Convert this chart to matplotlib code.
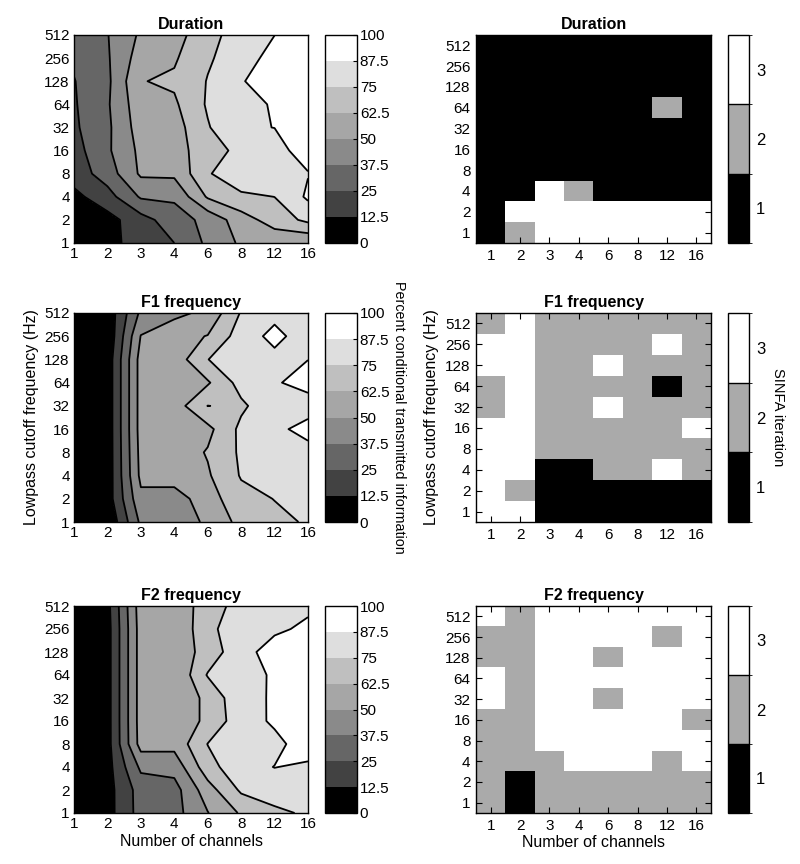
import numpy as np
import matplotlib
matplotlib.use("Agg")
import matplotlib.pyplot as plt
from matplotlib.colors import ListedColormap, BoundaryNorm

plt.rcParams['font.family'] = ['Liberation Sans', 'DejaVu Sans']

channels = ['1', '2', '3', '4', '6', '8', '12', '16']
cutoffs = ['1', '2', '4', '8', '16', '32', '64', '128', '256', '512']
levels = [0, 12.5, 25, 37.5, 50, 62.5, 75, 87.5, 100]
level_labels = ['0', '12.5', '25', '37.5', '50', '62.5', '75', '87.5', '100']

# Percent conditional transmitted information, rows = cutoff (1..512), cols = channels
dur_pct = [
    [2, 7, 20, 25, 40, 52, 54, 51],
    [3, 8, 20, 32, 41, 57, 68, 78],
    [9, 20, 39, 39.5, 64, 72, 75.1, 89.5],
    [18, 31, 52, 52.5, 73.5, 86, 86.5, 87],
    [20, 35.5, 53, 57, 69.8, 78.2, 84, 92],
    [23, 35, 56, 57, 74, 86.5, 87.6, 97],
    [23.8, 36, 58, 60.5, 76.5, 84, 88.5, 98],
    [24.5, 34.8, 62, 64.5, 75.6, 87, 91.2, 98],
    [27, 36.1, 55.9, 61, 73.5, 81.4, 92.3, 97],
    [31, 37, 52, 58, 70, 82, 87.4, 96],
]
f1_pct = [
    [0.5, 1, 40, 42, 52.4, 66.4, 72, 76.2],
    [1, 6, 47, 44, 57, 70.8, 75.3, 81],
    [1, 5, 53, 56, 61, 76, 82, 84],
    [1, 5, 54, 55, 63.5, 77, 84, 84],
    [1, 5, 55, 52, 59, 78, 85, 91],
    [1, 5, 55, 56.3, 75.2, 72.6, 84, 83],
    [1, 5, 55, 56, 61, 79.8, 86.5, 91],
    [1, 5, 55, 55.3, 74.8, 82, 84, 87.4],
    [1, 2.5, 50.5, 58, 63, 81, 91, 81],
    [1, 4, 40, 47, 52.8, 76, 84, 83],
]
f2_pct = [
    [1, 7.7, 30, 33, 49.5, 64, 72, 77],
    [1, 7.7, 30.4, 32.6, 57, 77, 82, 84],
    [1, 7.7, 40, 42, 70, 84, 87.7, 86],
    [1, 7.7, 55, 54, 75.3, 82, 85, 92.1],
    [1, 7.7, 55.7, 56, 64.6, 83.2, 88.9, 98],
    [1, 7.7, 55.7, 56, 64.6, 85.4, 88.2, 98],
    [1, 7.7, 55.7, 50.5, 76, 84, 88.6, 97],
    [1, 7.7, 55.7, 55, 67.1, 84.3, 91.3, 96],
    [1, 7.7, 55.7, 52, 71.1, 84.1, 86, 89.1],
    [1, 8.7, 56.7, 59, 65.1, 82.8, 85, 86],
]

# SINFA iteration, rows = cutoff (1..512), cols = channels
dur_iter = [
    [1, 2, 3, 3, 3, 3, 3, 3],
    [1, 3, 3, 3, 3, 3, 3, 3],
    [1, 1, 3, 2, 1, 1, 1, 1],
    [1, 1, 1, 1, 1, 1, 1, 1],
    [1, 1, 1, 1, 1, 1, 1, 1],
    [1, 1, 1, 1, 1, 1, 1, 1],
    [1, 1, 1, 1, 1, 1, 2, 1],
    [1, 1, 1, 1, 1, 1, 1, 1],
    [1, 1, 1, 1, 1, 1, 1, 1],
    [1, 1, 1, 1, 1, 1, 1, 1],
]
f1_iter = [
    [3, 3, 1, 1, 1, 1, 1, 1],
    [3, 2, 1, 1, 1, 1, 1, 1],
    [3, 3, 1, 1, 2, 2, 3, 2],
    [3, 3, 2, 2, 2, 2, 2, 2],
    [3, 3, 2, 2, 2, 2, 2, 3],
    [2, 3, 2, 2, 3, 2, 2, 2],
    [2, 3, 2, 2, 2, 2, 1, 2],
    [3, 3, 2, 2, 3, 2, 2, 2],
    [3, 3, 2, 2, 2, 2, 3, 2],
    [2, 3, 2, 2, 2, 2, 2, 2],
]
f2_iter = [
    [2, 1, 2, 2, 2, 2, 2, 2],
    [2, 1, 2, 2, 2, 2, 2, 2],
    [2, 2, 2, 3, 3, 3, 2, 3],
    [2, 2, 3, 3, 3, 3, 3, 3],
    [2, 2, 3, 3, 3, 3, 3, 2],
    [3, 2, 3, 3, 2, 3, 3, 3],
    [3, 2, 3, 3, 3, 3, 3, 3],
    [2, 2, 3, 3, 2, 3, 3, 3],
    [2, 2, 3, 3, 3, 3, 2, 3],
    [3, 2, 3, 3, 3, 3, 3, 3],
]
iter_ticks = [1, 2, 3]
titles = ['Duration', 'F1 frequency', 'F2 frequency']

W, H = 800, 864
fig = plt.figure(figsize=(W / 100, H / 100), dpi=100)


def ax_px(l, t, r, b):
    return fig.add_axes([l / W, 1 - b / H, (r - l) / W, (b - t) / H])


band_gray = [0.0, 0.26, 0.40, 0.54, 0.65, 0.75, 0.87, 1.0]
cmap_c = ListedColormap([(g, g, g) for g in band_gray])
cmap_i = ListedColormap(['black', '#aaaaaa', 'white'])
norm_i = BoundaryNorm([0.5, 1.5, 2.5, 3.5], 3)

FS = 11
rows_px = [(35, 243), (313, 522), (606, 813)]
pct_data = [dur_pct, f1_pct, f2_pct]
iter_data = [dur_iter, f1_iter, f2_iter]

x = np.arange(1, len(channels) + 1)
y = np.arange(1, len(cutoffs) + 1)

for i, (t, b) in enumerate(rows_px):
    # ---- left: contour ----
    ax = ax_px(74, t, 308, b)
    Z = np.array(pct_data[i], dtype=float)
    cs = ax.contourf(x, y, Z, levels=levels, cmap=cmap_c, vmin=0, vmax=100)
    ax.contour(x, y, Z, levels=levels[1:-1], colors='k', linewidths=1.3)
    ax.set_axisbelow(True)
    ax.set_xlim(1, 8)
    ax.set_ylim(1, 10)
    ax.set_xticks(x)
    ax.set_xticklabels(channels)
    ax.set_yticks(y)
    ax.set_yticklabels(cutoffs)
    ax.tick_params(direction='in', length=0, labelsize=FS, pad=3)
    ax.set_title(titles[i], fontsize=FS + 0.5, fontweight='bold', pad=4)
    for s in ax.spines.values():
        s.set_linewidth(1.0)

    cax = ax_px(325, t, 357, b)
    cb = fig.colorbar(cs, cax=cax, ticks=levels)
    cb.ax.set_yticklabels(level_labels)
    cb.ax.tick_params(direction='in', length=3, labelsize=FS, pad=2, width=0.8)
    cb.outline.set_linewidth(1.0)
    if i == 1:
        cb.set_label('Percent conditional transmitted information', rotation=270,
                     fontsize=10.3, labelpad=12)
        ax.set_ylabel('Lowpass cutoff frequency (Hz)', fontsize=FS + 0.5, labelpad=4)
    if i == 2:
        ax.set_xlabel('Number of channels', fontsize=FS + 0.5, labelpad=2)

    # ---- right: SINFA iteration ----
    ax2 = ax_px(476, t, 711, b)
    I = np.array(iter_data[i], dtype=float)
    im = ax2.imshow(I, cmap=cmap_i, norm=norm_i, origin='lower', aspect='auto',
                    extent=(0.5, len(channels) + 0.5, 0.5, len(cutoffs) + 0.5),
                    interpolation='nearest')
    ax2.set_xticks(x)
    ax2.set_xticklabels(channels)
    ax2.set_yticks(y)
    ax2.set_yticklabels(cutoffs)
    ax2.tick_params(direction='in', length=4, labelsize=FS, pad=4, width=0.8,
                    top=True, right=True)
    ax2.set_title(titles[i], fontsize=FS + 0.5, fontweight='bold', pad=4)
    for s in ax2.spines.values():
        s.set_linewidth(1.0)

    cax2 = ax_px(728, t, 749, b)
    cb2 = fig.colorbar(im, cax=cax2, ticks=iter_ticks, drawedges=True)
    cb2.ax.tick_params(length=0, labelsize=FS + 1, pad=5)
    cb2.outline.set_linewidth(1.0)
    cb2.dividers.set_linewidth(1.0)
    if i == 1:
        cb2.set_label('SINFA iteration', rotation=270, fontsize=10.5, labelpad=14)
        ax2.set_ylabel('Lowpass cutoff frequency (Hz)', fontsize=FS + 0.5, labelpad=4)
    if i == 2:
        ax2.set_xlabel('Number of channels', fontsize=FS + 0.5, labelpad=2)

fig.savefig('out.png', dpi=100)
